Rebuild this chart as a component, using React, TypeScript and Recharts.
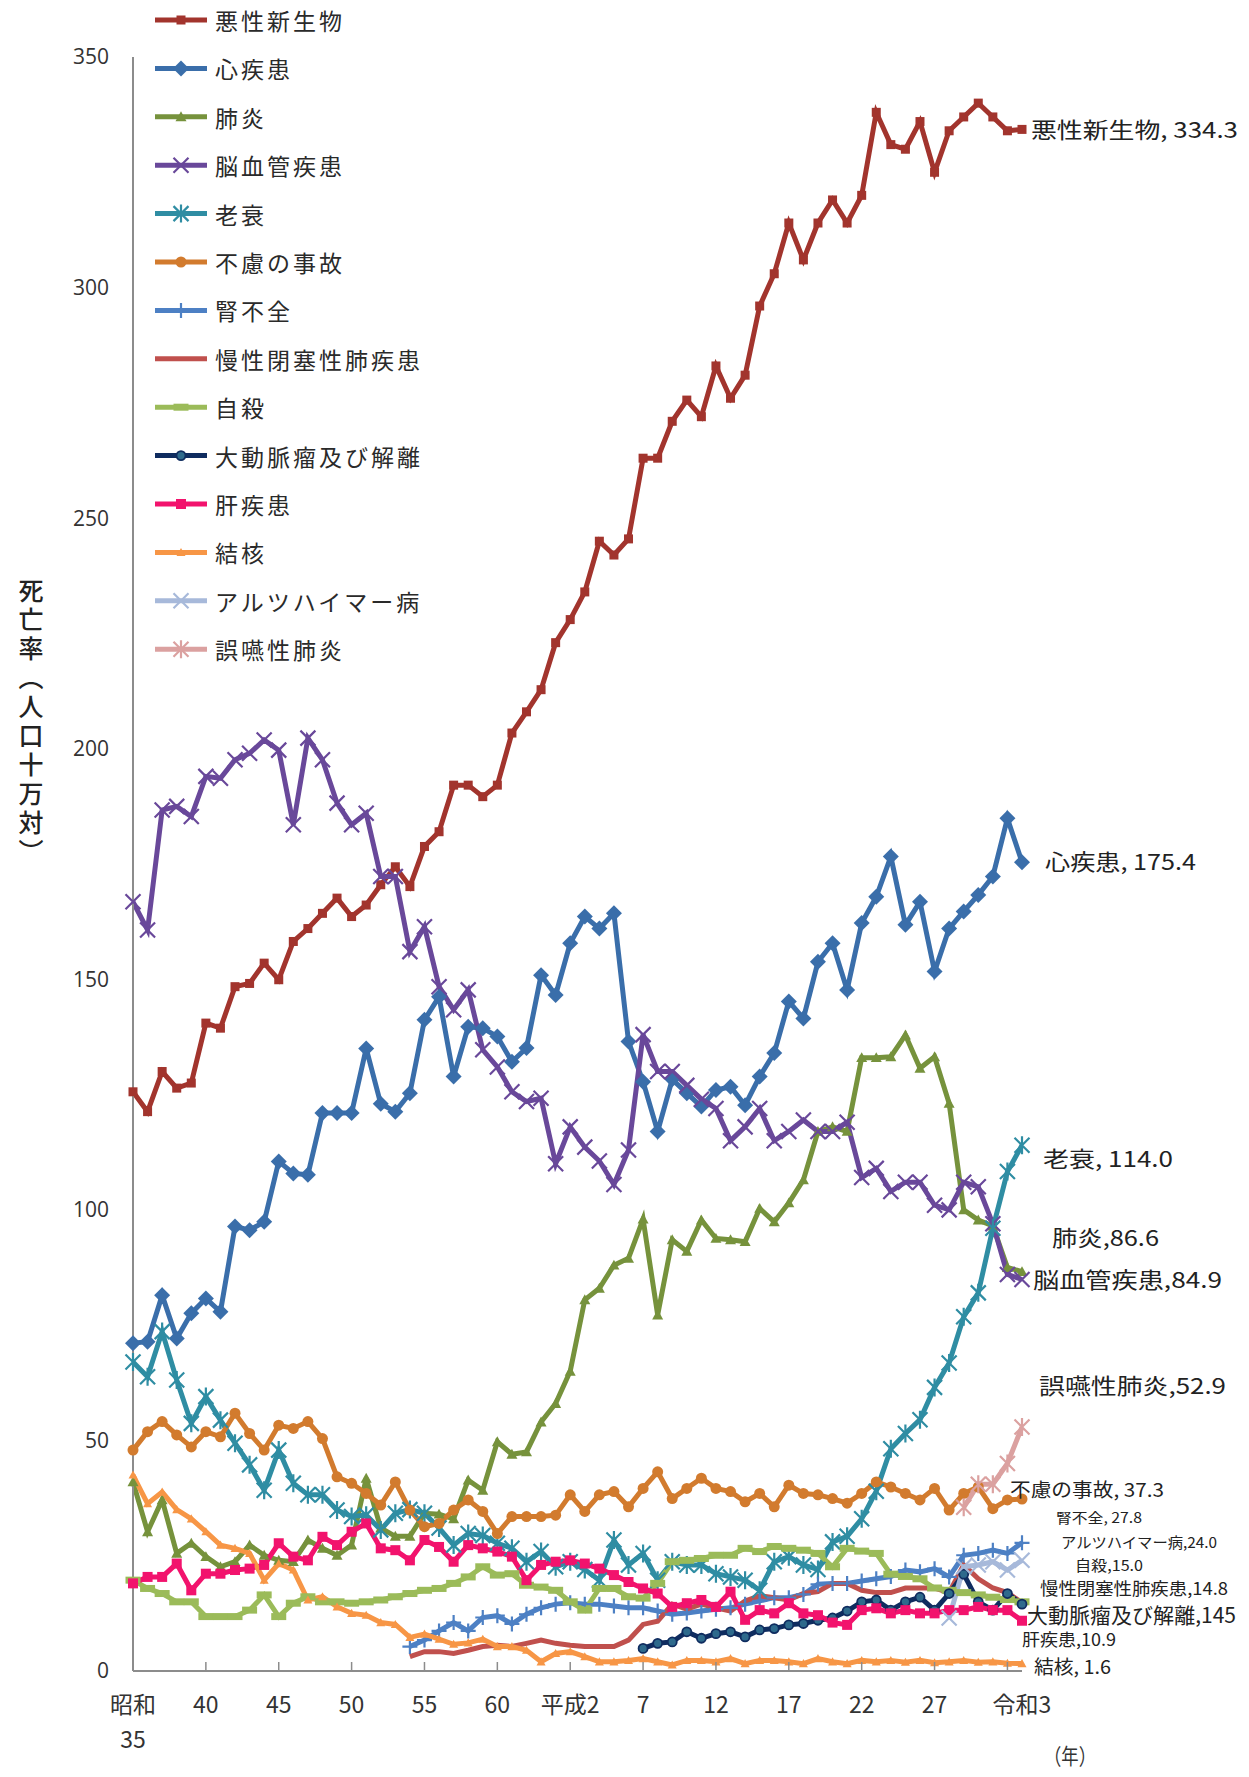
import { LineChart, Line, XAxis, YAxis, Legend } from "recharts";

const FONT = '"Noto Sans CJK JP", "Noto Sans", sans-serif';

// 昭和35 (1960) .. 令和3 (2021)
const YEARS = [
  1960, 1961, 1962, 1963, 1964, 1965, 1966, 1967, 1968, 1969,
  1970, 1971, 1972, 1973, 1974, 1975, 1976, 1977, 1978, 1979,
  1980, 1981, 1982, 1983, 1984, 1985, 1986, 1987, 1988, 1989,
  1990, 1991, 1992, 1993, 1994, 1995, 1996, 1997, 1998, 1999,
  2000, 2001, 2002, 2003, 2004, 2005, 2006, 2007, 2008, 2009,
  2010, 2011, 2012, 2013, 2014, 2015, 2016, 2017, 2018, 2019,
  2020, 2021,
];

const X_TICKS = [1960, 1965, 1970, 1975, 1980, 1985, 1990, 1995, 2000, 2005, 2010, 2015, 2020, 2021];
const X_LABELS: Record<number, string[]> = {
  1960: ["昭和", "35"],
  1965: ["40"],
  1970: ["45"],
  1975: ["50"],
  1980: ["55"],
  1985: ["60"],
  1990: ["平成2"],
  1995: ["7"],
  2000: ["12"],
  2005: ["17"],
  2010: ["22"],
  2015: ["27"],
  2021: ["令和3"],
};
const Y_TICKS = [0, 50, 100, 150, 200, 250, 300, 350];

// death rates per 100k
const AKUSEI = [
  125.6, 121.3, 130, 126.4, 127.5, 140.5, 139.4, 148.4, 149.1, 153.5,
  149.9, 158.2, 161, 164.3, 167.6, 163.6, 166.1, 170.5, 174.4, 170.1,
  178.8, 182, 192.1, 192.1, 189.6, 192.1, 203.4, 208, 212.8, 223,
  228, 234, 245, 242, 245.5, 263, 263, 271, 275.6, 272,
  283, 276, 281, 296, 303, 314, 306, 314, 319, 314,
  320, 338, 331, 330, 336, 325, 334, 337, 340, 337,
  334, 334.3,
];
const SHINSHIKKAN = [
  71.1, 71.4, 81.5, 72.1, 77.6, 80.8, 77.9, 96.4, 95.6, 97.4,
  110.5, 107.9, 107.6, 121, 121, 121, 135, 123, 121.3, 125.3,
  141.2, 146.2, 128.9, 139.7, 139.4, 137.6, 132.1, 135.1, 150.9, 146.6,
  157.8, 163.6, 161, 164.3, 136.5, 127.8, 117, 128.3, 125.3, 122.4,
  126, 126.7, 122.7, 128.9, 134, 145.2, 141.5, 153.8, 157.8, 147.7,
  162.2, 167.9, 176.6, 161.8, 166.8, 151.7, 161, 164.7, 168.3, 172.3,
  184.9, 175.4,
];
const HAIEN = [
  41, 30.2, 37.1, 25.5, 27.7, 24.8, 22.6, 23.7, 27.3, 25.1,
  24, 23.7, 28.4, 26.6, 25.1, 27.3, 41.8, 31, 29.2, 29.2,
  34.2, 34, 33, 41.4, 39.2, 49.7, 47, 47.5, 54, 58,
  65, 80.5, 83, 88, 89.5, 98, 77.2, 93.5, 91, 97.8,
  93.8, 93.5, 93.1, 100.3, 97.4, 101.5, 106.5, 117, 118, 117,
  133, 133, 133.2, 137.9, 130.7, 133.2, 123.1, 100, 97.8, 96.5,
  87.5, 86.6,
];
const NOKEKKAN = [
  166.8, 160.7, 186.7, 187.5, 185.3, 194, 193.6, 197.6, 199, 201.9,
  199.7, 183.5, 202.3, 197.6, 188.2, 183.5, 186, 172.3, 172.3, 156,
  161.4, 148.4, 143.4, 147.7, 134.7, 131, 125.6, 123.5, 124.2, 110,
  118, 113.6, 110.6, 105.5, 113, 138, 130, 130, 127, 124,
  122, 115, 118, 122, 115, 117, 119.5, 117, 117, 119,
  107, 109, 104, 106, 106, 101, 100, 106, 105, 97,
  86, 84.9,
];
const ROSUI = [
  67, 63.8, 73.6, 63.1, 53.7, 59.5, 54.4, 49.4, 44.7, 39.2,
  47.9, 40.7, 38.2, 38.2, 34.9, 33.5, 33.8, 30.6, 34.2, 35,
  34.2, 31, 27.3, 29.8, 29.4, 27.7, 26.6, 23.7, 25.9, 22.6,
  23.7, 22, 19.7, 28.4, 23, 25.5, 19.7, 23.7, 23, 23,
  21.1, 20.4, 19.7, 17.5, 23.7, 24.8, 23, 22, 28, 29.2,
  33, 39, 48.2, 51.5, 54.5, 61.5, 66.8, 76.8, 82, 96,
  108.3, 114,
];
const FURYO = [
  47.9, 51.9, 54.1, 51.2, 48.6, 51.9, 50.8, 55.9, 51.5, 47.9,
  53.3, 52.6, 54.1, 50.4, 42.1, 40.7, 38.5, 36, 41, 34.9,
  31.3, 32, 34.9, 37.1, 34.6, 29.8, 33.5, 33.5, 33.5, 33.8,
  38.2, 34.6, 38.2, 38.9, 35.6, 39.6, 43.2, 37.4, 39.6, 41.8,
  39.6, 38.9, 36.7, 38.5, 35.6, 40.3, 38.5, 38.2, 37.4, 36.4,
  38.5, 41, 39.9, 38.5, 37.1, 39.6, 34.9, 38.5, 39.9, 35.2,
  37.1, 37.3,
];
const JINFUZEN_FROM = 1979;
const JINFUZEN = [
  5.3, 6.7, 8.7, 10.5, 8.7, 11.6, 12, 10.2, 12.3, 13.7,
  14.5, 14.8, 14.5, 14.5, 14.1, 13.7, 13.7, 13, 12.3, 12.6,
  13, 13.4, 13.7, 14.5, 15.2, 15.9, 15.9, 16.6, 18.8, 19,
  19, 19.5, 20, 20.5, 21.9, 21.5, 22.2, 20.4, 25.1, 25.5,
  26.2, 25.5, 27.8,
];
const COPD_FROM = 1979;
const COPD = [
  3.1, 4.2, 4.2, 3.8, 4.5, 5.3, 5.6, 5.3, 6, 6.7,
  6, 5.6, 5.3, 5.3, 5.3, 6.7, 10.1, 10.8, 14.5, 13.4,
  14.5, 13.7, 13, 15.2, 16.3, 15.9, 15.4, 16.8, 17.2, 19,
  19, 17.5, 17, 17, 18, 18, 18, 17, 23, 20,
  18, 17, 14.8,
];
const JISATSU = [
  19.7, 17.9, 16.8, 15, 15, 11.8, 11.8, 11.8, 13.2, 16.5,
  11.8, 14.7, 16.1, 15, 15, 14.7, 15, 15.4, 16.1, 16.8,
  17.5, 17.9, 19, 20.4, 22.6, 20.8, 21.1, 18.6, 18.2, 17.5,
  15, 13.2, 17.9, 17.9, 16.1, 15.8, 19, 23.7, 24, 24.4,
  25.1, 25.1, 26.6, 25.9, 27, 26.6, 26.2, 25.5, 22.6, 26.6,
  26, 25.5, 21, 20.5, 20, 18, 17.5, 17, 16.5, 16,
  15.5, 15,
];
const DAIDOMYAKU_FROM = 1995;
const DAIDOMYAKU = [
  4.9, 6, 6.3, 8.5, 7.1, 8.1, 8.5, 7.4, 8.9, 9.2,
  10, 10.3, 11, 11.5, 13, 15, 15.4, 13.2, 15, 16,
  13.2, 16.8, 21, 15, 13.2, 16.8, 14.5,
];
const KANSHIKKAN = [
  19, 20.4, 20.4, 23.3, 17.5, 21.1, 21.1, 21.9, 22.2, 23,
  27.7, 24.8, 24, 29.1, 27.3, 30.2, 32, 26.6, 26.2, 24,
  28.4, 26.9, 23.7, 27.3, 26.6, 25.9, 24.8, 19.7, 23, 23.7,
  24, 23.3, 22.2, 20.8, 19.3, 17.9, 16.8, 13.9, 14.7, 15.4,
  13.9, 17.2, 11.1, 13.2, 12.5, 14.7, 12.5, 12.1, 10.5, 10,
  13.2, 13.6, 12.5, 13.2, 12.5, 12.5, 13.2, 13.2, 13.9, 13.2,
  13.2, 10.9,
];
const KEKKAKU = [
  42.5, 36.3, 38.8, 35, 33, 30.2, 27.3, 26.6, 25.5, 19.7,
  23.3, 21.9, 15.4, 16.1, 13.9, 12.5, 12.1, 10.5, 10.1, 7.3,
  8, 6.9, 5.8, 6.1, 6.9, 5.3, 5.3, 4.5, 2, 3.8,
  4.2, 3.1, 2, 2, 2.3, 2.7, 2, 1.3, 2.3, 2.3,
  2, 2.7, 1.6, 2.3, 2.3, 2, 1.6, 2.7, 2, 1.6,
  2.3, 2, 2.3, 1.9, 2.3, 1.8, 2, 2.3, 1.9, 2,
  1.7, 1.6,
];
const ALZHEIMER_FROM = 2016;
const ALZHEIMER = [11.5, 22.6, 23, 23.7, 21.9, 24];
const GOEN_FROM = 2017;
const GOEN = [35.5, 40.5, 40.5, 45, 52.9];

type Series = {
  key: string;
  name: string;
  values: number[];
  from: number;
  color: string;
  marker: string;
  size: number;
};

const SERIES: Series[] = [
  { key: "akusei", name: "悪性新生物", values: AKUSEI, from: 1960, color: "#A2342D", marker: "square", size: 4.5 },
  { key: "shin", name: "心疾患", values: SHINSHIKKAN, from: 1960, color: "#3A6EAA", marker: "diamond", size: 8 },
  { key: "haien", name: "肺炎", values: HAIEN, from: 1960, color: "#76923C", marker: "triangle", size: 5.5 },
  { key: "noukekkan", name: "脳血管疾患", values: NOKEKKAN, from: 1960, color: "#69489A", marker: "x", size: 7.5 },
  { key: "rosui", name: "老衰", values: ROSUI, from: 1960, color: "#2F8DA3", marker: "star", size: 7.5 },
  { key: "furyo", name: "不慮の事故", values: FURYO, from: 1960, color: "#D27B2E", marker: "circle", size: 5.5 },
  { key: "jin", name: "腎不全", values: JINFUZEN, from: JINFUZEN_FROM, color: "#4D80C4", marker: "plus", size: 7.5 },
  { key: "copd", name: "慢性閉塞性肺疾患", values: COPD, from: COPD_FROM, color: "#C0504D", marker: "none", size: 0 },
  { key: "jisatsu", name: "自殺", values: JISATSU, from: 1960, color: "#9BBB59", marker: "dash", size: 7.5 },
  { key: "daido", name: "大動脈瘤及び解離", values: DAIDOMYAKU, from: DAIDOMYAKU_FROM, color: "#0F2C5F", marker: "ring", size: 4.5 },
  { key: "kan", name: "肝疾患", values: KANSHIKKAN, from: 1960, color: "#F2136D", marker: "square", size: 5 },
  { key: "kekkaku", name: "結核", values: KEKKAKU, from: 1960, color: "#F79646", marker: "triangle", size: 4.5 },
  { key: "alz", name: "アルツハイマー病", values: ALZHEIMER, from: ALZHEIMER_FROM, color: "#A7B9DA", marker: "x", size: 7.5 },
  { key: "goen", name: "誤嚥性肺炎", values: GOEN, from: GOEN_FROM, color: "#DBA1A0", marker: "star", size: 7.5 },
];

const END_LABELS = [
  { text: "悪性新生物, 334.3", x: 1031, y: 128, w: 207, size: 22 },
  { text: "心疾患, 175.4", x: 1045, y: 860, w: 151, size: 22 },
  { text: "老衰, 114.0", x: 1043, y: 1157, w: 130, size: 22 },
  { text: "肺炎,86.6", x: 1052, y: 1236, w: 107, size: 22 },
  { text: "脳血管疾患,84.9", x: 1033, y: 1278, w: 189, size: 22 },
  { text: "誤嚥性肺炎,52.9", x: 1039, y: 1384, w: 187, size: 22 },
  { text: "不慮の事故, 37.3", x: 1010, y: 1488, w: 154, size: 19 },
  { text: "腎不全, 27.8", x: 1056, y: 1517, w: 86, size: 14 },
  { text: "アルツハイマー病,24.0", x: 1061, y: 1541, w: 156, size: 15 },
  { text: "自殺,15.0", x: 1075, y: 1564, w: 68, size: 15 },
  { text: "慢性閉塞性肺疾患,14.8", x: 1040, y: 1587, w: 188, size: 17 },
  { text: "大動脈瘤及び解離,145", x: 1027, y: 1614, w: 209, size: 21 },
  { text: "肝疾患,10.9", x: 1022, y: 1638, w: 94, size: 17 },
  { text: "結核, 1.6", x: 1034, y: 1665, w: 77, size: 19 },
];

const tableData = YEARS.map((year) => {
  const row: Record<string, number | null> = { year };
  SERIES.forEach((s) => {
    const k = year - s.from;
    row[s.key] = k >= 0 && k < s.values.length ? s.values[k] : null;
  });
  return row;
});

function Marker({ shape, x, y, color, s }: { shape: string; x: number; y: number; color: string; s: number }) {
  switch (shape) {
    case "square":
      return <rect x={x - s} y={y - s} width={s * 2} height={s * 2} fill={color} />;
    case "diamond":
      return <path d={`M${x} ${y - s}L${x + s} ${y}L${x} ${y + s}L${x - s} ${y}Z`} fill={color} />;
    case "triangle":
      return <path d={`M${x} ${y - s}L${x + s} ${y + s * 0.8}L${x - s} ${y + s * 0.8}Z`} fill={color} />;
    case "x":
      return (
        <path
          d={`M${x - s} ${y - s}L${x + s} ${y + s}M${x + s} ${y - s}L${x - s} ${y + s}`}
          stroke={color}
          strokeWidth={2.2}
        />
      );
    case "star":
      return (
        <path
          d={`M${x - s} ${y - s}L${x + s} ${y + s}M${x + s} ${y - s}L${x - s} ${y + s}M${x} ${y - s * 1.2}L${x} ${y + s * 1.2}`}
          stroke={color}
          strokeWidth={2.2}
        />
      );
    case "plus":
      return <path d={`M${x} ${y - s}L${x} ${y + s}M${x - s} ${y}L${x + s} ${y}`} stroke={color} strokeWidth={2.2} />;
    case "circle":
      return <circle cx={x} cy={y} r={s} fill={color} />;
    case "ring":
      return <circle cx={x} cy={y} r={s} fill="#2E6A8C" stroke={color} strokeWidth={1.8} />;
    case "dash":
      return <rect x={x - s} y={y - 3.5} width={s * 2} height={7} fill={color} />;
    default:
      return null;
  }
}

const XTick = (props: any) => {
  const { x, y, payload } = props;
  const yr = payload.value as number;
  const lines = X_LABELS[yr];
  return (
    <g>
      {yr % 5 === 0 && yr > 1960 && <line x1={x} x2={x} y1={y} y2={y - 9} stroke="#8c8c8c" strokeWidth={1.5} />}
      {lines &&
        lines.map((t, i) => (
          <text
            key={i}
            x={x}
            y={y + 32 + i * 35}
            textAnchor="middle"
            dominantBaseline="central"
            fontSize={23}
            fontFamily={FONT}
            fill="#333"
          >
            {t}
          </text>
        ))}
    </g>
  );
};

const LegendBox = () => (
  <svg width={500} height={680}>
    {SERIES.map((s, i) => {
      const y = 20 + i * 48.4;
      return (
        <g key={s.key}>
          <line x1={155} x2={207} y1={y} y2={y} stroke={s.color} strokeWidth={5} />
          <Marker shape={s.marker} x={181} y={y} color={s.color} s={s.size} />
          <text x={215} y={y} dominantBaseline="central" fontSize={23} letterSpacing={3} fontFamily={FONT} fill="#2a2a2a">
            {s.name}
          </text>
        </g>
      );
    })}
  </svg>
);

export default function App() {
  return (
    <div style={{ position: "absolute", left: 0, top: 0, width: 1249, height: 1777, background: "#fff" }}>
      <LineChart width={1249} height={1777} data={tableData} margin={{ top: 57, right: 227, bottom: 0, left: 0 }}>
        <XAxis
          dataKey="year"
          type="number"
          domain={[1960, 2021]}
          ticks={X_TICKS}
          interval={0}
          tick={<XTick />}
          tickLine={false}
          tickSize={0}
          tickMargin={0}
          height={106}
          axisLine={{ stroke: "#8c8c8c", strokeWidth: 2 }}
        />
        <YAxis
          type="number"
          domain={[0, 350]}
          ticks={Y_TICKS}
          interval={0}
          width={133}
          tickLine={false}
          tickSize={0}
          tickMargin={24}
          axisLine={{ stroke: "#8c8c8c", strokeWidth: 2 }}
          tick={{ fontSize: 21, fill: "#333", fontFamily: '"Open Sans", sans-serif' }}
        />
        <Legend
          layout="horizontal"
          verticalAlign="middle"
          align="center"
          wrapperStyle={{ position: "absolute", left: 0, top: 0, width: 500, height: 680 }}
          content={() => <LegendBox />}
        />
        {SERIES.map((s) => (
          <Line
            key={s.key}
            type="linear"
            dataKey={s.key}
            name={s.name}
            stroke={s.color}
            strokeWidth={5}
            connectNulls={false}
            isAnimationActive={false}
            activeDot={false}
            dot={
              s.marker === "none"
                ? false
                : (p: any) =>
                    p.cx == null || p.cy == null || p.value == null ? (
                      <g key={`${s.key}-${p.index}`} />
                    ) : (
                      <g key={`${s.key}-${p.index}`}>
                        <Marker shape={s.marker} x={p.cx} y={p.cy} color={s.color} s={s.size} />
                      </g>
                    )
            }
          />
        ))}
      </LineChart>
      <svg
        width={1249}
        height={1777}
        style={{ position: "absolute", left: 0, top: 0, pointerEvents: "none" }}
      >
        {END_LABELS.map((l) => (
          <text
            key={l.text}
            x={l.x}
            y={l.y}
            dominantBaseline="central"
            fontSize={l.size}
            fontFamily={FONT}
            fill="#222"
            textLength={l.w}
            lengthAdjust="spacingAndGlyphs"
          >
            {l.text}
          </text>
        ))}
        <text x={1044} y={1754} dominantBaseline="central" fontSize={22} fontFamily={FONT} fill="#333" textLength={52} lengthAdjust="spacingAndGlyphs">
          （年）
        </text>
      </svg>
      <div
        style={{
          position: "absolute",
          left: 17,
          top: 578,
          writingMode: "vertical-rl",
          fontFamily: FONT,
          fontSize: 25,
          fontWeight: 500,
          letterSpacing: 4,
          lineHeight: "28px",
          color: "#222",
        }}
      >
        死亡率（人口十万対）
      </div>
    </div>
  );
}
